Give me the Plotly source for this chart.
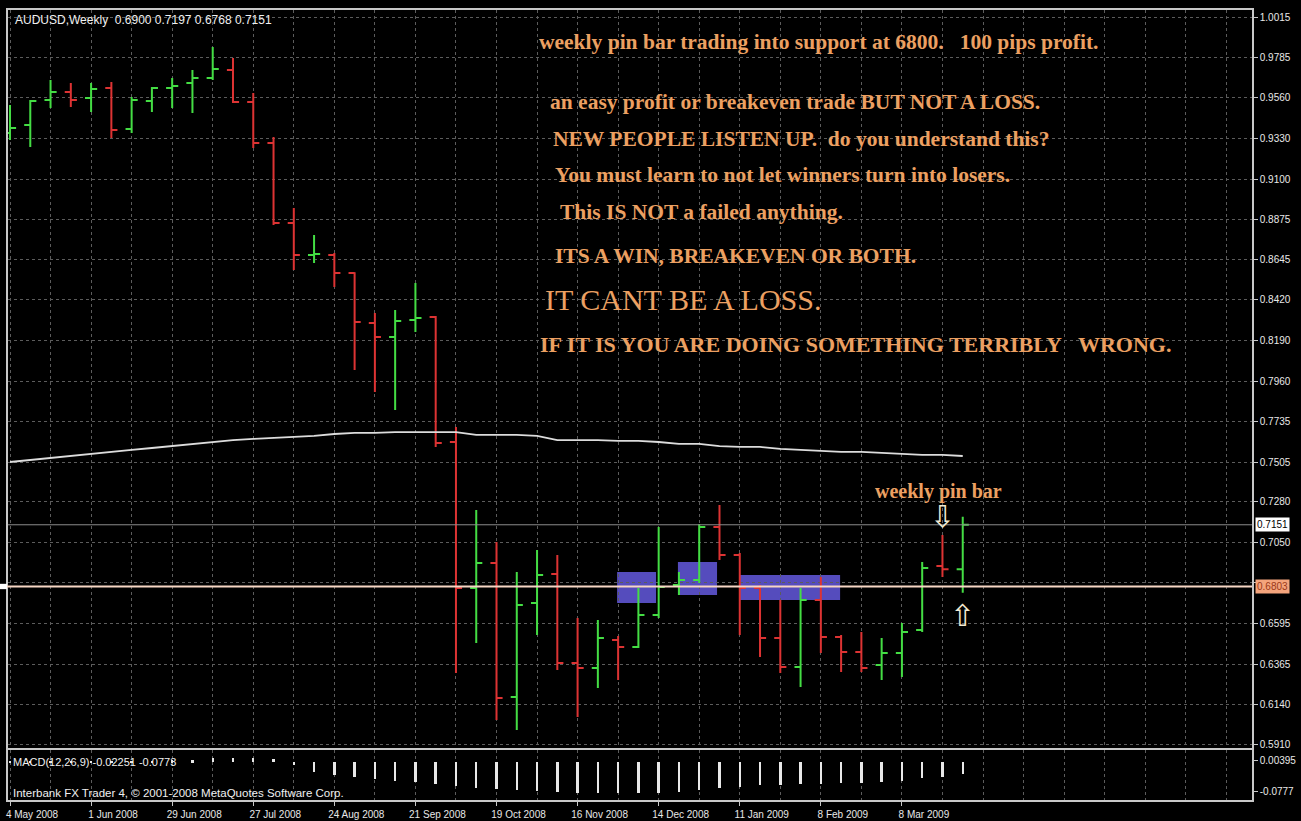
import plotly.graph_objects as go

# ---------------- data ----------------
week_dates = ["2008-05-04", "2008-05-11", "2008-05-18", "2008-05-25", "2008-06-01", "2008-06-08",
              "2008-06-15", "2008-06-22", "2008-06-29", "2008-07-06", "2008-07-13", "2008-07-20",
              "2008-07-27", "2008-08-03", "2008-08-10", "2008-08-17", "2008-08-24", "2008-08-31",
              "2008-09-07", "2008-09-14", "2008-09-21", "2008-09-28", "2008-10-05", "2008-10-12",
              "2008-10-19", "2008-10-26", "2008-11-02", "2008-11-09", "2008-11-16", "2008-11-23",
              "2008-11-30", "2008-12-07", "2008-12-14", "2008-12-21", "2008-12-28", "2009-01-04",
              "2009-01-11", "2009-01-18", "2009-01-25", "2009-02-01", "2009-02-08", "2009-02-15",
              "2009-02-22", "2009-03-01", "2009-03-08", "2009-03-15", "2009-03-22", "2009-03-29"]

date_tick_pos = [0, 4, 8, 12, 16, 20, 24, 28, 32, 36, 40, 44]
date_tick_labels = ["4 May 2008", "1 Jun 2008", "29 Jun 2008", "27 Jul 2008", "24 Aug 2008",
                    "21 Sep 2008", "19 Oct 2008", "16 Nov 2008", "14 Dec 2008", "11 Jan 2009",
                    "8 Feb 2009", "8 Mar 2009"]

open_ = [0.9361, 0.9406, 0.9547, 0.9592, 0.9558, 0.9615, 0.9383, 0.9541, 0.9615, 0.9643, 0.9671, 0.9716,
         0.9536, 0.9304, 0.8853, 0.8673, 0.8673, 0.8571, 0.8289, 0.8210, 0.8306, 0.8323, 0.7618, 0.6795,
         0.6936, 0.6180, 0.6710, 0.6874, 0.6372, 0.6343, 0.6501, 0.6462, 0.6642, 0.6811, 0.6840, 0.7139,
         0.6981, 0.6795, 0.6513, 0.6349, 0.6727, 0.6518, 0.6434, 0.6360, 0.6428, 0.6558, 0.6919, 0.6900]
high = [0.9519, 0.9547, 0.9660, 0.9643, 0.9643, 0.9648, 0.9564, 0.9620, 0.9671, 0.9716, 0.9846, 0.9784,
        0.9586, 0.9338, 0.8938, 0.8785, 0.8684, 0.8575, 0.8346, 0.8362, 0.8515, 0.8329, 0.7703, 0.7234,
        0.7054, 0.6885, 0.7009, 0.6981, 0.6625, 0.6614, 0.6524, 0.6795, 0.7139, 0.6885, 0.7156, 0.7263,
        0.6992, 0.6812, 0.6727, 0.6795, 0.6857, 0.6529, 0.6546, 0.6513, 0.6597, 0.6941, 0.7093, 0.7197]
low = [0.9321, 0.9282, 0.9502, 0.9507, 0.9479, 0.9333, 0.9361, 0.9479, 0.9502, 0.9474, 0.9660, 0.9530,
       0.9276, 0.8842, 0.8588, 0.8628, 0.8492, 0.8024, 0.7900, 0.7798, 0.8238, 0.7590, 0.6315, 0.6484,
       0.6050, 0.5994, 0.6529, 0.6332, 0.6067, 0.6231, 0.6276, 0.6456, 0.6625, 0.6755, 0.6823, 0.6952,
       0.6529, 0.6405, 0.6315, 0.6236, 0.6428, 0.6321, 0.6321, 0.6276, 0.6293, 0.6546, 0.6857, 0.6768]
close = [0.9389, 0.9541, 0.9592, 0.9547, 0.9609, 0.9378, 0.9547, 0.9615, 0.9626, 0.9671, 0.9722, 0.9536,
         0.9304, 0.8853, 0.8673, 0.8678, 0.8571, 0.8295, 0.8210, 0.8300, 0.8317, 0.7612, 0.6795, 0.6936,
         0.6174, 0.6699, 0.6868, 0.6372, 0.6343, 0.6513, 0.6462, 0.6642, 0.6800, 0.6840, 0.7139, 0.6981,
         0.6795, 0.6513, 0.6349, 0.6727, 0.6518, 0.6434, 0.6343, 0.6428, 0.6546, 0.6907, 0.6900, 0.7151]

moving_avg = [0.7505, 0.7517, 0.7528, 0.7539, 0.7550, 0.7562, 0.7573, 0.7584, 0.7595, 0.7607, 0.7618, 0.7629,
              0.7635, 0.7641, 0.7646, 0.7652, 0.7663, 0.7669, 0.7669, 0.7674, 0.7674, 0.7674, 0.7674, 0.7658,
              0.7658, 0.7658, 0.7652, 0.7629, 0.7629, 0.7629, 0.7624, 0.7624, 0.7618, 0.7607, 0.7607, 0.7595,
              0.7590, 0.7590, 0.7579, 0.7573, 0.7567, 0.7562, 0.7562, 0.7556, 0.7550, 0.7545, 0.7545, 0.7539]

macd_hist = [0.003, 0.003, 0.003, 0.004, 0.004, 0.004, 0.004, 0.004, 0.005, 0.005, 0.012, 0.012,
             0.010, 0.007, -0.008, -0.0268, -0.0348, -0.0402, -0.0456, -0.0509, -0.0536, -0.0590, -0.0643, -0.0697,
             -0.0724, -0.0750, -0.0777, -0.0804, -0.0831, -0.0831, -0.0831, -0.0831, -0.0831, -0.0804, -0.0750, -0.0697,
             -0.0670, -0.0616, -0.0616, -0.0590, -0.0590, -0.0563, -0.0563, -0.0536, -0.0509, -0.0429, -0.0402, -0.0322]

price_ticks = [1.0015, 0.9785, 0.9560, 0.9330, 0.9100, 0.8875, 0.8645, 0.8420, 0.8190, 0.7960,
               0.7735, 0.7505, 0.7280, 0.7050, 0.6825, 0.6595, 0.6365, 0.6140, 0.5910]
price_tick_text = ["1.0015", "0.9785", "0.9560", "0.9330", "0.9100", "0.8875", "0.8645", "0.8420",
                   "0.8190", "0.7960", "0.7735", "0.7505", "0.7280", "0.7050", "", "0.6595", "0.6365",
                   "0.6140", "0.5910"]
macd_ticks = [0.00395, -0.0777]
macd_tick_text = ["0.00395", "-0.0777"]

support_level = 0.6803
bid_level = 0.7151

# highlighted zones: (x0, x1) in bar units, (y0, y1) in price
zone_x0 = [29.95, 32.95, 36.0]
zone_x1 = [31.87, 34.88, 40.95]
zone_y0 = [0.6710, 0.6755, 0.6727]
zone_y1 = [0.6885, 0.6941, 0.6868]

header_text = "AUDUSD,Weekly  0.6900 0.7197 0.6768 0.7151"
macd_label = "MACD(12,26,9) -0.02251 -0.0773"
copyright_text = "Interbank FX Trader 4, \u00a9 2001-2008 MetaQuotes Software Corp."

note_lines = [
    "weekly pin bar trading into support at 6800.\u00a0\u00a0 100 pips profit.",
    "an easy profit or breakeven trade BUT NOT A LOSS.",
    "NEW PEOPLE LISTEN UP.\u00a0 do you understand this?",
    "You must learn to not let winners turn into losers.",
    "This IS NOT a failed anything.",
    "ITS A WIN, BREAKEVEN OR BOTH.",
    "IT CANT BE A LOSS.",
    "IF IT IS YOU ARE DOING SOMETHING TERRIBLY\u00a0\u00a0 WRONG.",
    "weekly pin bar",
]
note_px = [(537, 42), (548, 102), (551, 139), (553, 175), (558, 212), (553, 256), (543, 300), (538, 344), (873, 491)]
note_size = [21.5, 21.5, 21.5, 21.5, 21.5, 21.5, 30, 22, 20]
note_bold = [True, True, True, True, True, True, False, True, True]

idx = list(range(len(week_dates)))

# ---------------- styling ----------------
GREEN = "#44dd44"
RED = "#dd3333"
GRID = "#5c5c5c"
FRAME = "#c8c8c8"
ORANGE = "#eca062"
L, R, T, B = 8, 1252, 10, 800


def px(x):
    return (x - L) / (R - L)


def py(y):
    return (B - y) / (B - T)


fig = go.Figure()
fig.add_trace(go.Ohlc(
    x=idx, open=open_, high=high, low=low, close=close,
    increasing=dict(line=dict(color=GREEN, width=2)),
    decreasing=dict(line=dict(color=RED, width=2)),
    tickwidth=0.3, hoverinfo="skip", xaxis="x", yaxis="y"))
fig.add_trace(go.Scatter(x=idx, y=moving_avg, mode="lines",
                         line=dict(color="#dcdcdc", width=1.8), hoverinfo="skip",
                         xaxis="x", yaxis="y"))
fig.add_trace(go.Bar(x=idx, y=macd_hist, marker=dict(color="#e8e8e8", line=dict(width=0)),
                     width=0.12, hoverinfo="skip", xaxis="x2", yaxis="y2"))

shapes = []
for x0, x1, y0, y1 in zip(zone_x0, zone_x1, zone_y0, zone_y1):
    shapes.append(dict(type="rect", xref="x", yref="y", x0=x0, x1=x1, y0=y0, y1=y1,
                       fillcolor="rgba(92,82,205,0.92)", line=dict(width=0), layer="below"))
shapes.append(dict(type="line", xref="paper", yref="y", x0=0, x1=1, y0=bid_level, y1=bid_level,
                   line=dict(color="#8c8c8c", width=1)))
shapes.append(dict(type="line", xref="paper", yref="y", x0=px(0), x1=1, y0=support_level, y1=support_level,
                   line=dict(color="#f6d6c4", width=2)))
shapes.append(dict(type="rect", xref="paper", yref="y", x0=px(0), x1=px(7),
                   y0=support_level - 0.0015, y1=support_level + 0.0015,
                   fillcolor="white", line=dict(width=0)))

annotations = []
for text, (x, y), size, bold in zip(note_lines, note_px, note_size, note_bold):
    annotations.append(dict(
        xref="paper", yref="paper", x=px(x), y=py(y), xanchor="left", yanchor="middle",
        text=("<b>%s</b>" % text) if bold else text, showarrow=False,
        font=dict(family="Liberation Serif", size=size, color=ORANGE)))

# pin bar arrows
annotations.append(dict(xref="x", yref="y", x=46, y=0.7196, text="\u21e9", showarrow=False,
                        font=dict(family="DejaVu Sans", size=30, color="#f2ead2")))
annotations.append(dict(xref="x", yref="y", x=47, y=0.6640, text="\u21e7", showarrow=False,
                        font=dict(family="DejaVu Sans", size=30, color="#f2ead2")))

annotations.append(dict(xref="paper", yref="paper", x=px(13), y=py(20), xanchor="left", yanchor="middle",
                        text=header_text, showarrow=False,
                        font=dict(family="Liberation Sans", size=12, color="#f0f0f0")))
annotations.append(dict(xref="paper", yref="paper", x=px(11), y=py(762), xanchor="left", yanchor="middle",
                        text=macd_label, showarrow=False,
                        font=dict(family="Liberation Sans", size=11, color="#f0f0f0")))
annotations.append(dict(xref="paper", yref="paper", x=px(11), y=py(793), xanchor="left", yanchor="middle",
                        text=copyright_text, showarrow=False,
                        font=dict(family="Liberation Sans", size=11.5, color="#f0f0f0")))

# price boxes on the right axis
annotations.append(dict(xref="paper", yref="y", x=px(1255), y=bid_level, xanchor="left", yanchor="middle",
                        text="0.7151", showarrow=False, bgcolor="white", borderpad=1,
                        font=dict(family="Liberation Sans", size=10, color="black")))
annotations.append(dict(xref="paper", yref="y", x=px(1255), y=support_level, xanchor="left", yanchor="middle",
                        text="0.6803", showarrow=False, bgcolor="#f4a47c", borderpad=1,
                        font=dict(family="Liberation Sans", size=10, color="#9a3818")))

axis_font = dict(family="Liberation Sans", size=10, color="#e8e8e8")
minor_grid = dict(dtick=2, tick0=0, showgrid=True, gridcolor=GRID, griddash="dot", gridwidth=1, ticks="")

fig.update_layout(
    width=1301, height=821,
    margin=dict(l=L, r=1301 - R, t=T, b=821 - B, autoexpand=False),
    paper_bgcolor="black", plot_bgcolor="black", showlegend=False,
    shapes=shapes, annotations=annotations,
    xaxis=dict(domain=[0, 1], anchor="y", range=[-0.099, 61.27], showticklabels=False,
               tickvals=date_tick_pos, ticks="", showgrid=True, gridcolor=GRID, griddash="dot",
               minor=minor_grid, showline=True, mirror=True, linecolor=FRAME, linewidth=1.5,
               zeroline=False, rangeslider=dict(visible=False), automargin=False),
    yaxis=dict(domain=[py(748), 1], anchor="x", side="right", range=[0.5892, 1.00545],
               tickvals=price_ticks, ticktext=price_tick_text, ticks="outside", ticklen=4,
               tickcolor=FRAME, tickfont=axis_font, showgrid=True, gridcolor=GRID, griddash="dot",
               showline=True, mirror=True, linecolor=FRAME, linewidth=1.5, zeroline=False,
               automargin=False),
    xaxis2=dict(domain=[0, 1], anchor="y2", matches="x", tickvals=date_tick_pos,
                ticktext=date_tick_labels, ticks="outside", ticklen=4, tickcolor=FRAME,
                ticklabelshift=22, tickfont=dict(family="Liberation Sans", size=10, color="#e8e8e8"),
                showgrid=True, gridcolor=GRID, griddash="dot", minor=minor_grid,
                showline=True, mirror=True, linecolor=FRAME, linewidth=1.5, zeroline=False,
                rangeslider=dict(visible=False), automargin=False),
    yaxis2=dict(domain=[0, py(750)], anchor="x2", side="right", range=[-0.1018, 0.0322],
                tickvals=macd_ticks, ticktext=macd_tick_text, ticks="outside", ticklen=4,
                tickcolor=FRAME, tickfont=axis_font, showgrid=False,
                showline=True, mirror=True, linecolor=FRAME, linewidth=1.5, zeroline=False,
                automargin=False),
    bargap=0,
)

fig.write_html("out.html", config={"displayModeBar": False},
               post_script="document.body.style.margin='0';document.body.style.overflow='hidden';")
